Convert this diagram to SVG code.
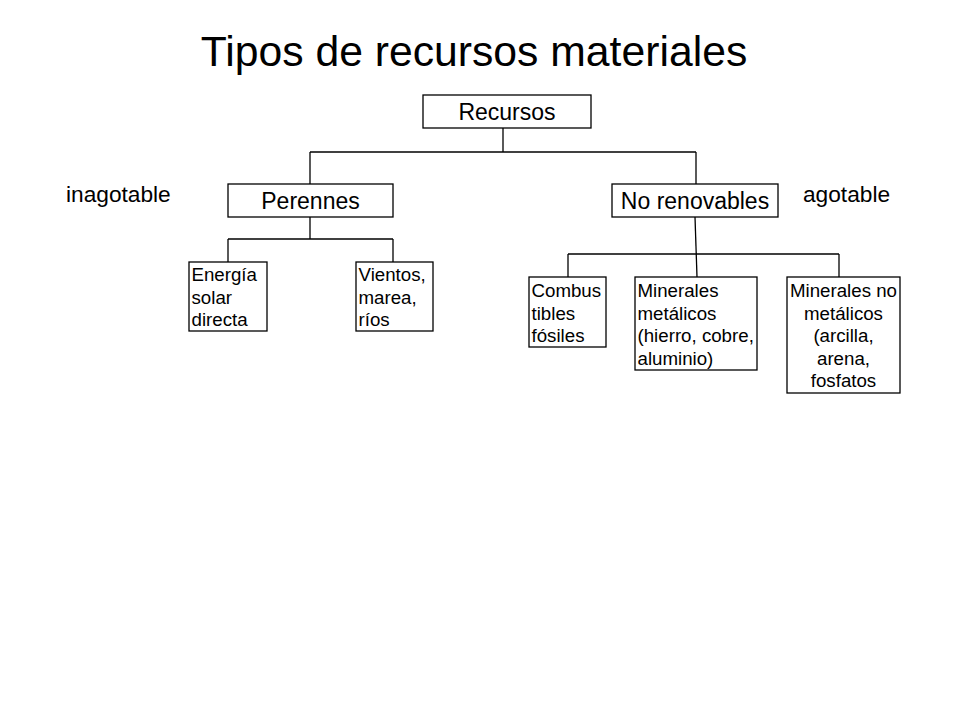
<svg xmlns="http://www.w3.org/2000/svg" width="960" height="720" viewBox="0 0 960 720">
<style>
text{font-family:"Liberation Sans",Arial,sans-serif;fill:#000}
.box{fill:#fff;stroke:#000;stroke-width:1.3}
.con line{stroke:#000;stroke-width:1.3}
.big{font-size:23px;text-anchor:middle}
.sm{font-size:18.7px}
.smc{font-size:18.7px;text-anchor:middle}
.lab{font-size:22.7px}
</style>
<rect width="960" height="720" fill="#fff"/>
<text x="474" y="66" font-size="42.7" text-anchor="middle">Tipos de recursos materiales</text>
<g class="con" id="connectors">
<line x1="503" y1="128" x2="503" y2="152"/>
<line x1="310" y1="152" x2="696" y2="152"/>
<line x1="310" y1="152" x2="310" y2="184"/>
<line x1="696" y1="152" x2="696" y2="184"/>
<line x1="310" y1="217" x2="310" y2="239"/>
<line x1="228" y1="239" x2="393" y2="239"/>
<line x1="228" y1="239" x2="228" y2="262"/>
<line x1="393" y1="239" x2="393" y2="262"/>
<line x1="695" y1="217" x2="697" y2="277"/>
<line x1="568" y1="254" x2="839" y2="254"/>
<line x1="568" y1="254" x2="568" y2="277"/>
<line x1="839" y1="254" x2="839" y2="277"/>
</g>
<g id="recursos"><rect class="box" x="423" y="95" width="168" height="33"/><text class="big" x="507" y="120">Recursos</text></g>
<g id="perennes"><rect class="box" x="228" y="184" width="165" height="33"/><text class="big" x="310.5" y="209">Perennes</text></g>
<g id="norenovables"><rect class="box" x="612" y="184" width="166" height="33"/><text class="big" x="695" y="209">No renovables</text></g>
<g id="energia"><rect class="box" x="189" y="262" width="78" height="69"/><text class="sm" x="191.5"><tspan x="191.5" y="281">Energía</tspan><tspan x="191.5" y="303.5">solar</tspan><tspan x="191.5" y="326">directa</tspan></text></g>
<g id="vientos"><rect class="box" x="356" y="262" width="77" height="69"/><text class="sm" x="358.5"><tspan x="358.5" y="281">Vientos,</tspan><tspan x="358.5" y="303.5">marea,</tspan><tspan x="358.5" y="326">ríos</tspan></text></g>
<g id="combustibles"><rect class="box" x="529" y="277" width="77" height="70"/><text class="sm" x="531.5"><tspan x="531.5" y="297">Combus</tspan><tspan x="531.5" y="319.5">tibles</tspan><tspan x="531.5" y="342">fósiles</tspan></text></g>
<g id="metalicos"><rect class="box" x="635" y="277" width="122" height="93"/><text class="sm" x="637.5"><tspan x="637.5" y="297">Minerales</tspan><tspan x="637.5" y="319.5">metálicos</tspan><tspan x="637.5" y="342">(hierro, cobre,</tspan><tspan x="637.5" y="364.5">aluminio)</tspan></text></g>
<g id="nometalicos"><rect class="box" x="787" y="277" width="113" height="116"/><text class="smc" x="843.5"><tspan x="843.5" y="297">Minerales no</tspan><tspan x="843.5" y="319.5">metálicos</tspan><tspan x="843.5" y="342">(arcilla,</tspan><tspan x="843.5" y="364.5">arena,</tspan><tspan x="843.5" y="387">fosfatos</tspan></text></g>
<g id="inagotable"><text class="lab" x="66" y="202">inagotable</text></g>
<g id="agotable"><text class="lab" x="803" y="202">agotable</text></g>
</svg>
